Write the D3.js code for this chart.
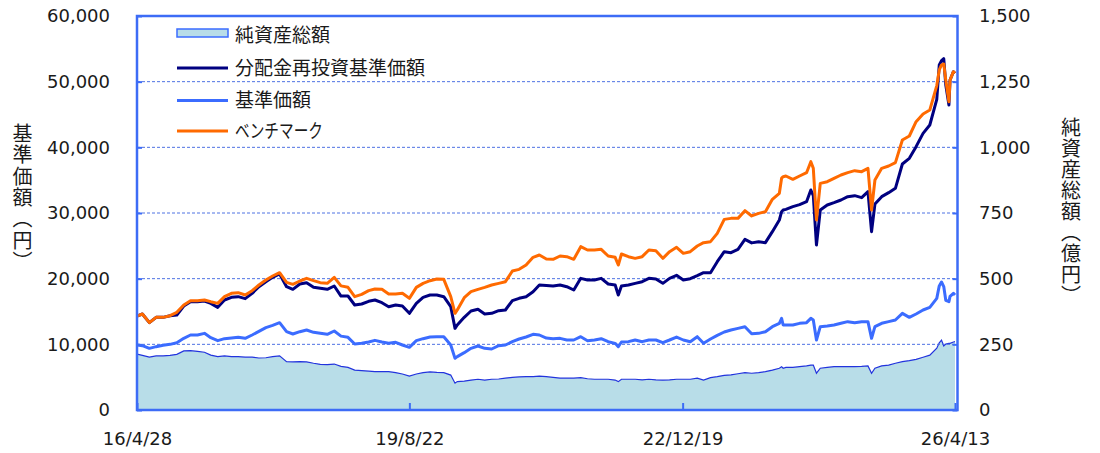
<!DOCTYPE html>
<html>
<head>
<meta charset="utf-8">
<script src="https://cdn.jsdelivr.net/npm/d3@7"></script>
<style>
  body { margin: 0; background: #fff; }
  svg { display: block; }
</style>
</head>
<body>
<div id="chart"></div>
<script>
const dates = [
  "2016-04-28","2016-05-22","2016-06-22","2016-07-22","2016-08-22","2016-09-22","2016-10-22","2016-11-22","2016-12-22",
  "2017-01-22","2017-02-22","2017-03-22","2017-04-22","2017-05-22","2017-06-22","2017-07-22","2017-08-22","2017-09-22","2017-10-22","2017-11-22","2017-12-22",
  "2018-01-22","2018-02-22","2018-03-22","2018-04-22","2018-05-22","2018-06-22","2018-07-22","2018-08-22","2018-09-22","2018-10-22","2018-11-22","2018-12-22",
  "2019-01-22","2019-02-22","2019-03-22","2019-04-22","2019-05-22","2019-06-22","2019-07-22","2019-08-22","2019-09-22","2019-10-22","2019-11-22","2019-12-22",
  "2020-01-22","2020-02-22","2020-03-12","2020-03-22","2020-04-22","2020-05-22","2020-06-22","2020-07-22","2020-08-22","2020-09-22","2020-10-22","2020-11-22","2020-12-22",
  "2021-01-22","2021-02-22","2021-03-22","2021-04-22","2021-05-22","2021-06-22","2021-07-22","2021-08-22","2021-09-22","2021-10-22","2021-11-22","2021-12-22",
  "2022-01-22","2022-02-22","2022-03-08","2022-03-22","2022-04-22","2022-05-22","2022-06-22","2022-07-22","2022-08-22","2022-09-22","2022-10-22","2022-11-22","2022-12-22",
  "2023-01-22","2023-02-22","2023-03-22","2023-04-22","2023-05-22","2023-06-22","2023-07-22","2023-08-22","2023-09-22","2023-10-22","2023-11-22","2023-12-22",
  "2024-01-22","2024-02-22","2024-03-03","2024-03-10","2024-03-22","2024-04-22","2024-05-22","2024-06-22","2024-07-11","2024-07-22","2024-08-05","2024-08-22","2024-09-22","2024-10-22","2024-11-22","2024-12-22",
  "2025-01-22","2025-02-22","2025-03-22","2025-04-07","2025-04-22","2025-05-22","2025-06-22","2025-07-22","2025-08-22","2025-09-22","2025-10-22","2025-11-22","2025-12-22",
  "2026-01-22","2026-02-02","2026-02-12","2026-02-22","2026-03-03","2026-03-17","2026-03-22","2026-04-06","2026-04-13"
];

// 純資産総額 (億円, right axis)
const totalAssets = [
  213,208,201,206,206,208,212,225,226,
  223,220,209,203,206,203,203,201,201,198,199,203,
  206,184,183,184,183,178,174,173,175,166,162,152,
  150,148,146,146,146,142,137,129,137,142,145,143,
  142,133,102,108,110,114,117,114,117,118,121,124,126,
  127,127,129,127,124,121,121,121,123,119,117,117,
  117,114,108,117,117,117,115,117,115,114,115,117,117,
  117,121,114,123,127,132,134,138,142,140,142,146,
  152,159,165,159,162,162,165,168,171,171,140,159,162,165,165,165,
  165,166,168,140,159,168,171,178,184,188,193,201,209,
  235,256,266,244,251,254,254,259,260
];

// 分配金再投資基準価額 (円)
const reinvestNav = [
  14314,14619,13300,14111,14111,14365,14467,15837,16497,
  16497,16598,16243,15634,16751,17157,17258,16954,17766,18781,19542,20203,
  20710,18781,18375,19187,19390,18679,18527,18375,18882,17350,17360,15989,
  16142,16548,16751,16344,15735,15989,15837,14720,16243,17157,17512,17512,
  17258,15735,12436,12944,14111,15076,15330,14619,14720,15126,15228,16649,17005,
  17258,18020,19035,18950,18882,19035,18781,18274,20050,19796,19796,20050,
  19187,19035,17512,18882,19035,19289,19542,20050,19949,19289,20050,20507,19796,
  20000,20457,20913,20913,22588,24111,23959,24467,25989,25450,25634,25481,
  27156,28933,30200,30456,30557,30964,31269,31726,33502,32640,25126,30456,31217,31573,31979,32486,
  32638,32334,33248,27156,31370,32486,33096,33756,37461,38325,40100,42131,43401,
  47300,52540,53200,53500,49500,46450,50250,51520,51270
];

// 基準価額 (円)
const baseNav = [
  9898,9797,9391,9645,9848,10000,10253,10913,11421,
  11421,11675,11015,10558,10862,10964,11066,10913,11421,11979,12537,12893,
  13300,11928,11573,11928,12182,11826,11675,11522,12030,11250,11066,10050,
  10152,10355,10608,10355,10152,10304,9898,9544,10558,10862,11116,11167,
  11167,9898,7868,8122,8731,9391,9746,9391,9290,9797,9898,10406,10812,
  11116,11522,11421,10950,10862,10913,10660,10660,11167,10558,10660,10862,
  10406,10152,9645,10355,10406,10660,10406,10660,10660,10253,10660,11116,10660,
  10406,11167,10152,10812,11370,11878,12182,12436,12690,11600,11675,11928,
  12690,13198,13960,12944,12944,12944,13198,13300,13960,13705,10660,12690,12792,12944,13198,13452,
  13300,13452,13452,10913,12690,13198,13452,13705,14720,14111,14619,15228,15634,
  17000,18900,19500,18800,16700,16500,17300,17766,17512
];

// ベンチマーク
const benchmark = [
  14314,14619,13300,14111,14111,14365,14873,15989,16649,
  16649,16751,16497,16243,17258,17766,17868,17512,18172,19035,19796,20406,
  20913,19441,19137,19644,20050,19695,19390,19289,20203,18900,18679,17258,
  17613,18172,18426,18375,17664,17664,17766,17005,18679,19289,19695,19949,
  19898,17258,14720,15228,17105,18020,18375,18679,19035,19289,19542,21167,21421,
  22081,23248,23603,23000,22944,23451,23349,22944,24872,24365,24365,24467,
  23451,23248,22081,23756,23349,23096,23349,24365,24264,23096,24111,24771,23857,
  24111,24974,25481,25634,26902,29030,29182,29182,30354,29550,29949,30202,
  32083,32997,35300,35530,35634,35126,35634,36141,37817,36800,28933,34516,34770,35278,35786,36141,
  36446,36294,36801,30456,35024,36801,37156,37664,41116,41725,43906,45075,45684,
  49400,51780,52540,52700,50250,46950,50250,51520,51270
];

const leftTicks = [0, 10000, 20000, 30000, 40000, 50000, 60000];
const rightTicks = [0, 250, 500, 750, 1000, 1250, 1500];
const xTickDates = ["2016-04-28", "2019-08-22", "2022-12-19", "2026-04-13"];
const xTickLabels = ["16/4/28", "19/8/22", "22/12/19", "26/4/13"];
const legendLabels = ["純資産総額", "分配金再投資基準価額", "基準価額", "ベンチマーク"];
const leftTitle = "基準価額（円）";
const rightTitle = "純資産総額（億円）";

const width = 1100, height = 453;
const plot = { left: 137, right: 955, top: 16, bottom: 410 };
const frameRight = 957.5;

const colors = {
  frame: "#3d6cf6",
  grid: "#4f72e3",
  area: "#b8dde8",
  areaLine: "#2233dd",
  reinvest: "#000080",
  base: "#3b6cff",
  bench: "#ff6a00",
  text: "#1a1a1a"
};

const parse = d3.timeParse("%Y-%m-%d");
const rows = dates.map((d, i) => ({
  date: parse(d),
  aum: totalAssets[i],
  reinvest: reinvestNav[i],
  base: baseNav[i],
  bench: benchmark[i]
}));

const svg = d3.select("#chart").append("svg")
  .attr("width", width)
  .attr("height", height)
  .attr("viewBox", `0 0 ${width} ${height}`);

const x = d3.scaleTime()
  .domain([parse("2016-04-28"), parse("2026-04-13")])
  .range([plot.left, plot.right]);
const yLeft = d3.scaleLinear().domain([0, 60000]).range([plot.bottom, plot.top]);
const yRight = d3.scaleLinear().domain([0, 1500]).range([plot.bottom, plot.top]);

// clip so nothing spills past the frame
svg.append("clipPath").attr("id", "plot-clip")
  .append("rect")
  .attr("x", plot.left).attr("y", plot.top)
  .attr("width", frameRight - plot.left).attr("height", plot.bottom - plot.top);

const g = svg.append("g").attr("clip-path", "url(#plot-clip)");

// total assets area
g.append("path")
  .datum(rows)
  .attr("fill", colors.area)
  .attr("d", d3.area().x(d => x(d.date)).y0(plot.bottom).y1(d => yRight(d.aum)));
g.append("path")
  .datum(rows)
  .attr("fill", "none")
  .attr("stroke", colors.areaLine)
  .attr("stroke-width", 1.2)
  .attr("d", d3.line().x(d => x(d.date)).y(d => yRight(d.aum)));

// dotted gridlines
g.selectAll(".grid")
  .data(leftTicks.filter(t => t > 0 && t < 60000))
  .join("line")
  .attr("class", "grid")
  .attr("x1", plot.left).attr("x2", frameRight)
  .attr("y1", d => yLeft(d)).attr("y2", d => yLeft(d))
  .attr("stroke", colors.grid)
  .attr("stroke-width", 1)
  .attr("stroke-dasharray", "3,2");

// price lines
const series = [
  { key: "base", color: colors.base },
  { key: "reinvest", color: colors.reinvest },
  { key: "bench", color: colors.bench }
];
series.forEach(s => {
  g.append("path")
    .datum(rows)
    .attr("fill", "none")
    .attr("stroke", s.color)
    .attr("stroke-width", 3)
    .attr("stroke-linejoin", "round")
    .attr("d", d3.line().x(d => x(d.date)).y(d => yLeft(d[s.key])));
});

// frame
svg.append("rect")
  .attr("x", plot.left).attr("y", plot.top)
  .attr("width", frameRight - plot.left).attr("height", plot.bottom - plot.top)
  .attr("fill", "none")
  .attr("stroke", colors.frame)
  .attr("stroke-width", 2.5);

// axes
const fontFamily = "'DejaVu Sans', Verdana, sans-serif";

const leftAxis = svg.append("g")
  .attr("transform", `translate(${plot.left},0)`)
  .call(d3.axisLeft(yLeft).tickValues(leftTicks).tickFormat(d3.format(","))
    .tickSizeInner(-5).tickSizeOuter(0).tickPadding(27));

const rightAxis = svg.append("g")
  .attr("transform", `translate(${frameRight},0)`)
  .call(d3.axisRight(yRight).tickValues(rightTicks).tickFormat(d3.format(","))
    .tickSizeInner(-5).tickSizeOuter(0).tickPadding(21.5));

const bottomAxis = svg.append("g")
  .attr("transform", `translate(0,${plot.bottom})`)
  .call(d3.axisBottom(x).tickValues(xTickDates.map(parse))
    .tickFormat((d, i) => xTickLabels[i])
    .tickSizeInner(-7).tickSizeOuter(0).tickPadding(22));

[leftAxis, rightAxis, bottomAxis].forEach(a => {
  a.select(".domain").remove();
  a.selectAll(".tick line").attr("stroke", colors.frame).attr("stroke-width", 2);
  a.selectAll("text")
    .attr("fill", colors.text)
    .attr("font-family", fontFamily)
    .attr("font-size", 18);
});

// vertical axis titles (vertical writing, brackets take their vertical form)
const cjk = "'Noto Sans CJK JP', 'Noto Sans CJK SC', sans-serif";
svg.append("text")
  .attr("x", 22.5).attr("y", 123.5)
  .attr("font-family", cjk)
  .attr("font-size", 20)
  .attr("letter-spacing", 1.3)
  .attr("fill", colors.text)
  .style("writing-mode", "vertical-rl")
  .text(leftTitle);

svg.append("text")
  .attr("x", 1071).attr("y", 117)
  .attr("font-family", cjk)
  .attr("font-size", 20)
  .attr("letter-spacing", 1.1)
  .attr("fill", colors.text)
  .style("writing-mode", "vertical-rl")
  .text(rightTitle);

// legend
const legend = svg.append("g").attr("font-family", cjk).attr("font-size", 19).attr("fill", colors.text);
const legendRows = [33, 66, 98.5, 129];
const swatchX = 177, swatchW = 51;

legend.append("rect")
  .attr("x", swatchX).attr("y", legendRows[0] - 4)
  .attr("width", swatchW).attr("height", 8)
  .attr("fill", colors.area)
  .attr("stroke", colors.base)
  .attr("stroke-width", 1.5);

[colors.reinvest, colors.base, colors.bench].forEach((c, i) => {
  legend.append("line")
    .attr("x1", swatchX).attr("x2", swatchX + swatchW)
    .attr("y1", legendRows[i + 1] + 2).attr("y2", legendRows[i + 1] + 2)
    .attr("stroke", c)
    .attr("stroke-width", 3);
});

legend.selectAll(".legend-text")
  .data(legendLabels)
  .join("text")
  .attr("class", "legend-text")
  .attr("x", 235)
  .attr("y", (d, i) => legendRows[i])
  .attr("dominant-baseline", "central")
  .text(d => d);

// the katakana label is set proportionally in the original
legend.selectAll(".legend-text")
  .filter((d, i) => i === 3)
  .attr("textLength", 88)
  .attr("lengthAdjust", "spacingAndGlyphs");
</script>
</body>
</html>
